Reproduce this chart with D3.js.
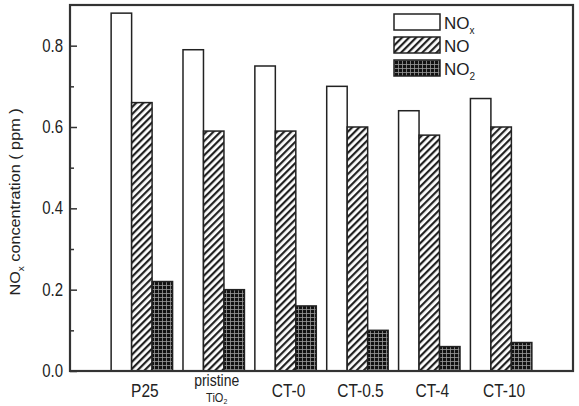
<!DOCTYPE html>
<html>
<head>
<meta charset="utf-8">
<script src="https://cdn.jsdelivr.net/npm/d3@7"></script>
<style>
  body { margin: 0; background: #fff; }
  text { font-family: "Liberation Sans", Arial, sans-serif; fill: #222; }
</style>
</head>
<body>
<div id="container"></div>
<script>
const categories = ["P25", "pristine TiO2", "CT-0", "CT-0.5", "CT-4", "CT-10"];
const noxValues = [0.88, 0.79, 0.75, 0.70, 0.64, 0.67];
const noValues  = [0.66, 0.59, 0.59, 0.60, 0.58, 0.60];
const no2Values = [0.22, 0.20, 0.16, 0.10, 0.06, 0.07];
const yTicks = [0.0, 0.2, 0.4, 0.6, 0.8];
const yMinorTicks = [0.1, 0.3, 0.5, 0.7];

const w = 579, h = 406;
const margin = {top: 5, left: 70, bottom: 35, right: 6};
const graphWidth = w - margin.left - margin.right;
const graphHeight = h - margin.top - margin.bottom;

const svg = d3.select("#container").append("svg").attr("width", w).attr("height", h);

// patterns
const defs = svg.append("defs");
const hatch = defs.append("pattern").attr("id", "hatch")
    .attr("patternUnits", "userSpaceOnUse").attr("width", 5).attr("height", 5)
    .attr("patternTransform", "rotate(45)");
hatch.append("rect").attr("width", 5).attr("height", 5).attr("fill", "#fff");
hatch.append("rect").attr("width", 2.2).attr("height", 5).attr("fill", "#222");

const grid = defs.append("pattern").attr("id", "grid")
    .attr("patternUnits", "userSpaceOnUse").attr("width", 4).attr("height", 4);
grid.append("rect").attr("width", 4).attr("height", 4).attr("fill", "#111");
grid.append("rect").attr("width", 4).attr("height", 0.8).attr("fill", "#999");
grid.append("rect").attr("width", 0.8).attr("height", 4).attr("fill", "#999");

const graph = svg.append("g").attr("transform", `translate(${margin.left}, ${margin.top})`);

const xScale = d3.scaleLinear().domain([-1, 6]).range([0, graphWidth]);
const yScale = d3.scaleLinear().domain([0, 0.9]).range([graphHeight, 0]);
const step = xScale(1) - xScale(0);
const barW = step * 0.285;

const series = [
  {name: "NOx", values: noxValues, fill: "#fff", offset: -1.5},
  {name: "NO", values: noValues, fill: "url(#hatch)", offset: -0.5},
  {name: "NO2", values: no2Values, fill: "url(#grid)", offset: 0.5}
];

series.forEach(s => {
  graph.selectAll("rect.bar-" + s.name)
    .data(s.values)
    .enter()
    .append("rect")
      .attr("class", "bar-" + s.name)
      .attr("x", (d, i) => xScale(i) + s.offset * barW)
      .attr("y", d => yScale(d))
      .attr("width", barW)
      .attr("height", d => graphHeight - yScale(d))
      .attr("fill", s.fill)
      .attr("stroke", "#222")
      .attr("stroke-width", 1.5);
});

// frame
graph.append("rect").attr("width", graphWidth).attr("height", graphHeight)
  .attr("fill", "none").attr("stroke", "#333").attr("stroke-width", 2.2);

// y axis, ticks pointing inward
const yAxis = d3.axisRight(yScale).tickValues(yTicks).tickSize(7).tickFormat("");
const yAxisGroup = graph.append("g").call(yAxis);
yAxisGroup.select(".domain").remove();
yAxisGroup.selectAll("line").attr("stroke", "#333").attr("stroke-width", 1.5);
const yMinor = d3.axisRight(yScale).tickValues(yMinorTicks).tickSize(4).tickFormat("");
const yMinorGroup = graph.append("g").call(yMinor);
yMinorGroup.select(".domain").remove();
yMinorGroup.selectAll("line").attr("stroke", "#333").attr("stroke-width", 1.5);

graph.selectAll("text.ytick")
  .data(yTicks)
  .enter()
  .append("text")
    .attr("class", "ytick")
    .attr("text-anchor", "end")
    .attr("transform", d => `translate(-7, ${yScale(d) + 6}) scale(1, 1.2)`)
    .style("font-size", "15px")
    .text(d => d.toFixed(1));

// x labels
const xl = graph.selectAll("g.xlabel")
  .data(categories)
  .enter()
  .append("g")
    .attr("class", "xlabel")
    .attr("transform", (d, i) => `translate(${xScale(i) + 3}, ${graphHeight + 26}) scale(1, 1.15)`);
xl.each(function(d) {
  const g = d3.select(this);
  if (d === "pristine TiO2") {
    g.append("text").attr("text-anchor", "middle").attr("y", -10).style("font-size", "14px").text("pristine");
    const t = g.append("text").attr("text-anchor", "middle").attr("y", 4.5).style("font-size", "11px");
    t.append("tspan").text("TiO");
    t.append("tspan").attr("dy", 2).style("font-size", "7px").text("2");
  } else {
    g.append("text").attr("text-anchor", "middle").style("font-size", "15.5px").text(d);
  }
});

// y title
const yt = svg.append("text")
  .attr("text-anchor", "middle")
  .attr("transform", `translate(20, ${margin.top + graphHeight / 2 + 14}) rotate(-90) scale(1.12, 1)`)
  .style("font-size", "14.5px");
yt.append("tspan").text("NO");
yt.append("tspan").attr("dy", 4).style("font-size", "9px").text("x");
yt.append("tspan").attr("dy", -4).text(" concentration ( ppm )");

// legend
const legendItems = [
  {label: "NO", sub: "x", fill: "#fff"},
  {label: "NO", sub: "", fill: "url(#hatch)"},
  {label: "NO", sub: "2", fill: "url(#grid)"}
];
const legend = svg.append("g").attr("transform", "translate(394, 14)");
const li = legend.selectAll("g").data(legendItems).enter().append("g")
  .attr("transform", (d, i) => `translate(0, ${i * 23})`);
li.append("rect").attr("width", 46).attr("height", 16)
  .attr("fill", d => d.fill).attr("stroke", "#222").attr("stroke-width", 1.5);
const lt = li.append("text").attr("x", 50).attr("y", 15)
  .style("font-size", "17px");
lt.append("tspan").text(d => d.label);
lt.append("tspan").attr("dy", 5).style("font-size", "10px").text(d => d.sub);
</script>
</body>
</html>
